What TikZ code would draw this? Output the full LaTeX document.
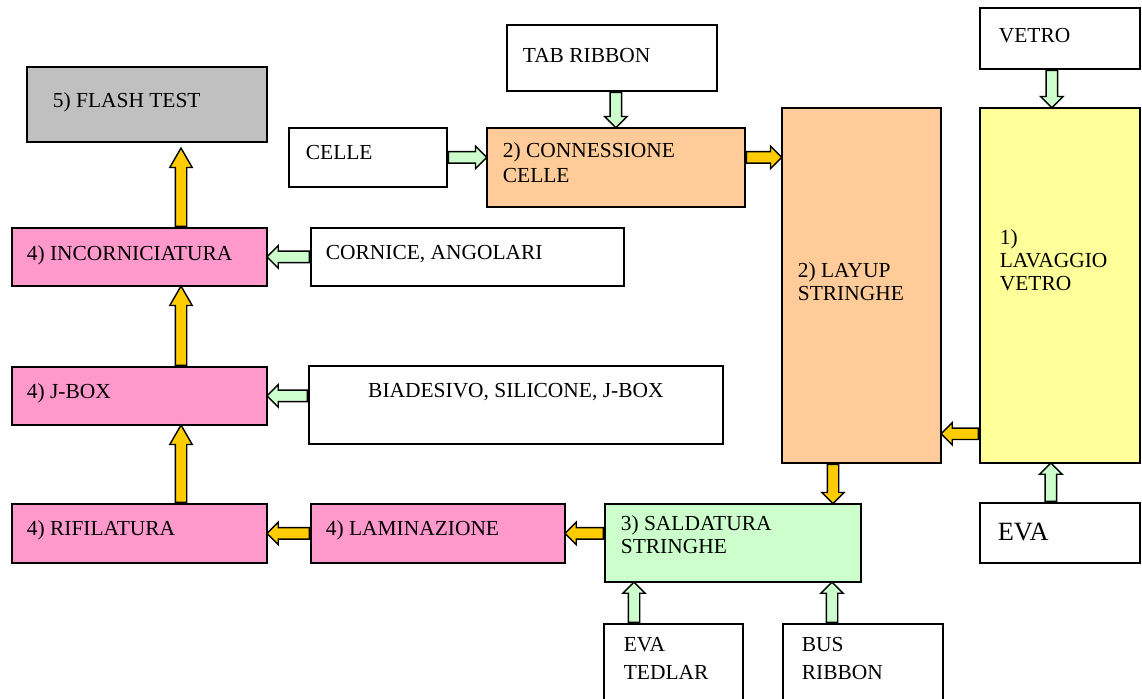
\documentclass[tikz,border=0pt]{standalone}
\usepackage{fontspec}
\setmainfont{Liberation Serif}
\usepackage{xcolor}
\usepackage{tikz}
\usetikzlibrary{calc}
\usetikzlibrary{shapes.arrows}
\definecolor{ygold}{HTML}{FFCC00}
\definecolor{lgreen}{HTML}{CCFFCC}
\definecolor{orangebox}{HTML}{FFCC99}
\definecolor{yellowbox}{HTML}{FFFF99}
\definecolor{pinkbox}{HTML}{FF99CC}
\definecolor{graybox}{HTML}{C0C0C0}
\newlength{\pxu}
\setlength{\pxu}{0.02cm}
% width, height, left pad, top pad, text
\newcommand{\boxtext}[5]{%
\begin{minipage}[c][#2\pxu][t]{#1\pxu}%
\vspace*{#4\pxu}\leftskip=#3\pxu\noindent\strut #5%
\end{minipage}%
}
\tikzstyle{blk} = [draw=black, line width=1pt, inner sep=0pt, anchor=north west,
font=\fontsize{12.2}{13.1}\selectfont]
\tikzstyle{fat} = [single arrow, draw=black, line width=0.8pt, inner xsep=0pt,
inner ysep=5\pxu, single arrow head extend=5.5\pxu, single arrow tip angle=90,
anchor=tail]
\newcommand{\fatarrow}[3][]{%
\path let \p1=#2, \p2=#3, \n1={veclen(\x2-\x1,\y2-\y1)}, \n2={atan2(\y2-\y1,\x2-\x1)}
    in (\p1) node [fat, minimum height=\n1, rotate=\n2, #1] {};
}

\begin{document}
\begin{tikzpicture}[x=0.02cm, y=-0.02cm]
    \clip (0,0) rectangle (1142,698);
    % left column
    \node [blk, fill=graybox] (flash) at (26,66) {\boxtext{240}{75}{26}{24.9}{5) FLASH TEST}};
    \node [blk, fill=pinkbox] (incorn) at (11,227) {\boxtext{255}{58}{15}{16.9}{4) INCORNICIATURA}};
    \node [blk, fill=pinkbox] (jbox) at (11,366) {\boxtext{255}{58}{15}{15.9}{4) J-BOX}};
    \node [blk, fill=pinkbox] (rifil) at (11,503) {\boxtext{255}{59}{15}{15.9}{4) RIFILATURA}};
    % materials
    \node [blk, fill=white] (cornice) at (310,227) {\boxtext{313}{58}{15}{15.9}{CORNICE, ANGOLARI}};
    \node [blk, fill=white] (biad) at (308,365) {\boxtext{414}{78}{0}{15.9}{\centering BIADESIVO, SILICONE, J-BOX}};
    \node [blk, fill=pinkbox] (lamin) at (310,503) {\boxtext{254}{59}{15}{15.9}{4) LAMINAZIONE}};
    \node [blk, fill=white] (celle) at (288,127) {\boxtext{158}{59}{17}{15.9}{CELLE}};
    \node [blk, fill=white] (tab) at (506,24) {\boxtext{210}{66}{16}{21.9}{TAB RIBBON}};
    \node [blk, fill=orangebox] (conn) at (486,127) {\boxtext{258}{79}{16}{13.9}{2) CONNESSIONE\\[1pt]CELLE}};
    \node [blk, fill=lgreen] (sald) at (604,503) {\boxtext{256}{78}{16}{10.9}{3) SALDATURA\\STRINGHE}};
    \node [blk, fill=white] (evated) at (603,623) {\boxtext{139}{97}{20}{11.9}{EVA\\[2.5pt]TEDLAR}};
    \node [blk, fill=white] (bus) at (782,623) {\boxtext{160}{97}{19}{11.9}{BUS\\[2.5pt]RIBBON}};
    % right columns
    \node [blk, fill=orangebox] (layup) at (781,107) {\boxtext{159}{355}{16}{153.9}{2) LAYUP\\STRINGHE}};
    \node [blk, fill=white] (vetro) at (979,7) {\boxtext{160}{61}{19}{18.9}{VETRO}};
    \node [blk, fill=yellowbox] (lavaggio) at (979,107) {\boxtext{160}{355}{20}{120.9}{1)\\LAVAGGIO\\VETRO}};
    \node [blk, fill=white, font=\fontsize{15}{18}\selectfont] (eva) at (979,502) {\boxtext{160}{60}{18}{15.5}{EVA}};
    % arrows
    \fatarrow[fill=lgreen]{(tab.south -| conn.north)}{(conn.north)}
    \fatarrow[fill=lgreen]{($(vetro.south)+(-8,0)$)}{($(lavaggio.north)+(-8,0)$)}
    \fatarrow[fill=lgreen]{(celle.east)}{(celle.east -| conn.west)}
    \fatarrow[fill=ygold]{(celle.east -| conn.east)}{(celle.east -| layup.west)}
    \fatarrow[fill=ygold]{($(lavaggio.south west)+(0,-30)$)}{($(layup.south east)+(0,-30)$)}
    \fatarrow[fill=ygold]{($(layup.south west)+(52,0)$)}{($(sald.north west)+(229,0)$)}
    \fatarrow[fill=lgreen]{($(eva.north)+(-9,0)$)}{($(lavaggio.south)+(-9,0)$)}
    \fatarrow[fill=lgreen]{($(evated.north west)+(31,0)$)}{($(sald.south west)+(30,0)$)}
    \fatarrow[fill=lgreen]{($(bus.north west)+(50,0)$)}{($(sald.south west)+(228,0)$)}
    \fatarrow[fill=ygold]{(lamin.east -| sald.west)}{(lamin.east)}
    \fatarrow[fill=ygold]{(lamin.west)}{(rifil.east)}
    \fatarrow[fill=ygold, single arrow tip angle=60]{($(rifil.north west)+(170,0)$)}{($(jbox.south west)+(170,0)$)}
    \fatarrow[fill=ygold, single arrow tip angle=60]{($(jbox.north west)+(170,0)$)}{($(incorn.south west)+(170,0)$)}
    \fatarrow[fill=ygold, single arrow tip angle=60]{($(incorn.north west)+(170,0)$)}{($(flash.south west)+(155,6)$)}
    \fatarrow[fill=lgreen]{(cornice.west)}{(cornice.west -| incorn.east)}
    \fatarrow[fill=lgreen]{(jbox.east -| biad.west)}{(jbox.east)}
\end{tikzpicture}
\end{document}
